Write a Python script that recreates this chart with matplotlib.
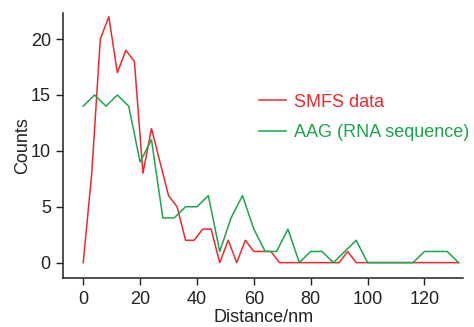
import numpy as np
import matplotlib
matplotlib.use('Agg')
import matplotlib.pyplot as plt

plt.rcParams['font.family'] = ['Liberation Sans', 'DejaVu Sans']

# ── data ───────────────────────────────────────────────────────────────────
smfs_x = np.arange(0, 133, 3)
smfs_counts = [0, 8, 20, 22, 17, 19, 18, 8, 12, 9, 6, 5, 2, 2, 3, 3,
               0, 2, 0, 2, 1, 1, 1, 0, 0, 0, 0, 0, 0, 0, 0, 1,
               0, 0, 0, 0, 0, 0, 0, 0, 0, 0, 0, 0, 0]

aag_x = np.arange(0, 133, 4)
aag_counts = [14, 15, 14, 15, 14, 9, 11, 4, 4, 5, 5, 6, 1, 4, 6, 3,
              1, 1, 3, 0, 1, 1, 0, 1, 2, 0, 0, 0, 0, 0, 1, 1, 1, 0]

red = '#f0282d'
green = '#1aa64c'
ink = '#222222'

fig = plt.figure(figsize=(4.74, 3.27), dpi=100)
ax = fig.add_axes([0.1336, 0.149, 0.977 - 0.1336, 0.959 - 0.149])

ax.plot(smfs_x, smfs_counts, color=red, lw=1.1, label='SMFS data')
ax.plot(aag_x, aag_counts, color=green, lw=1.1, label='AAG (RNA sequence)')

ax.set_xlim(-7, 133.6)
ax.set_ylim(-1.4, 22.3)
ax.set_xticks(range(0, 121, 20))
ax.set_yticks(range(0, 21, 5))
ax.tick_params(direction='out', length=5, width=1, labelsize=13, colors=ink, pad=4)
for s in ['top', 'right']:
    ax.spines[s].set_visible(False)
for s in ['left', 'bottom']:
    ax.spines[s].set_linewidth(1.1)
    ax.spines[s].set_color(ink)

ax.set_xlabel('Distance/nm', fontsize=13, labelpad=1, color=ink)
ax.set_ylabel('Counts', fontsize=13, labelpad=0, color=ink)

fig.legend(loc='center left', bbox_to_anchor=(0.546, 0.641), frameon=False,
           fontsize=13, handlelength=1.5, handletextpad=0.45, labelspacing=0.75,
           borderpad=0, borderaxespad=0, labelcolor='linecolor')

fig.savefig('out.png', dpi=100)
